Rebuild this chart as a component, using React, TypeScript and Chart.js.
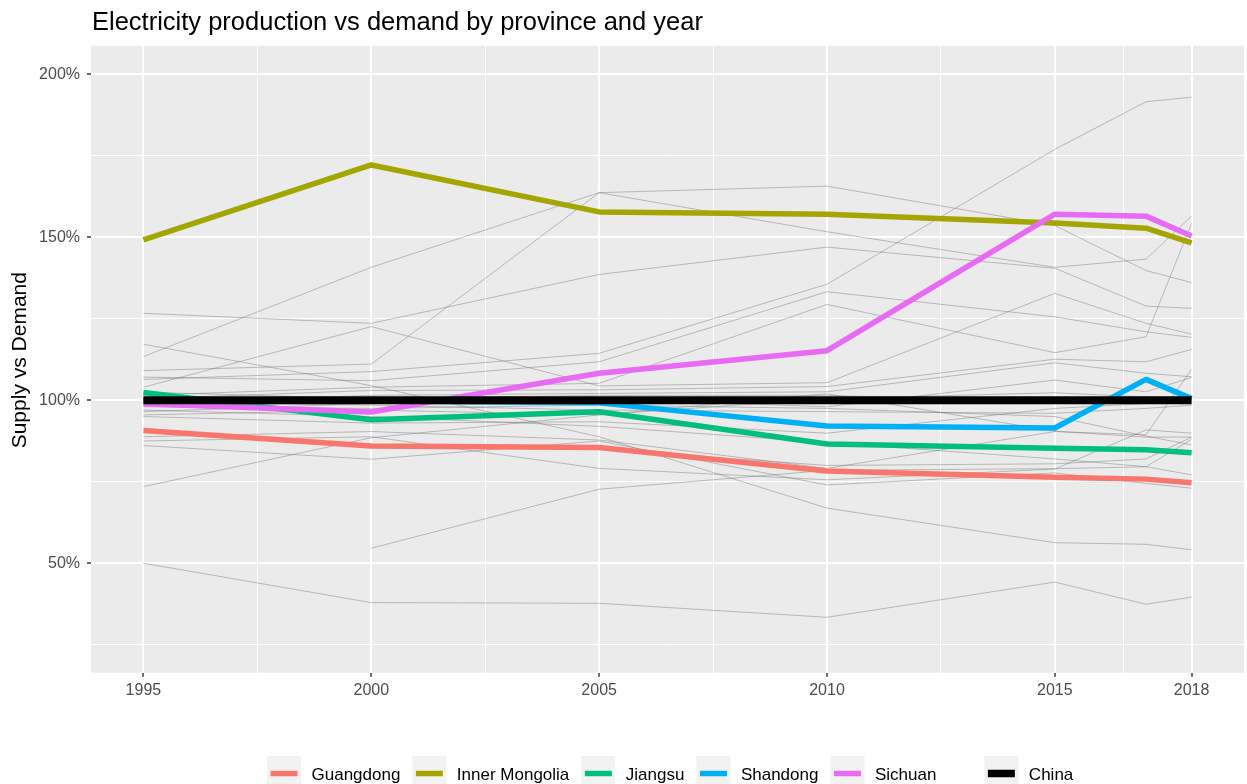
import React, { useEffect, useRef } from 'react';
import { Chart, registerables } from 'chart.js';

Chart.register(...registerables);

const years = [1995, 2000, 2005, 2010, 2015, 2017, 2018];
const xMajorTicks = [1995, 2000, 2005, 2010, 2015, 2018];
const xMinorTicks = [1997.5, 2002.5, 2007.5, 2012.5, 2016.5];
const yMajorTicks = [50, 100, 150, 200];
const yMinorTicks = [25, 75, 125, 175];

const chartTitle = 'Electricity production vs demand by province and year';
const yAxisTitle = 'Supply vs Demand';

const highlightNames = ['Guangdong', 'Inner Mongolia', 'Jiangsu', 'Shandong', 'Sichuan'];
const highlightColors = ['#F8766D', '#A3A500', '#00BF7D', '#00B0F6', '#E76BF3'];
const chinaName = 'China';

const guangdong = [90.7, 86.0, 85.5, 78.3, 76.4, 75.8, 74.7];
const innerMongolia = [149.2, 172.2, 157.8, 157.1, 154.4, 152.8, 148.3];
const jiangsu = [102.4, 94.0, 96.5, 86.6, 85.3, 84.8, 83.9];
const shandong = [100.0, 99.8, 99.2, 92.1, 91.5, 106.4, 100.5];
const sichuan = [98.9, 96.4, 108.3, 115.2, 157.1, 156.5, 150.4];
const china = [100, 100, 100, 100, 100, 100, 100];

const otherProvinces: (number | null)[][] = [
  [50.0, 37.9, 37.7, 33.4, 44.2, 37.4, 39.6],
  [null, 54.6, 72.7, 78.5, 79.0, 79.6, 88.0],
  [117.2, 104.5, 88.8, 66.9, 56.3, 55.8, 54.1],
  [113.4, 140.8, 163.7, 165.7, 153.6, 139.8, 136.1],
  [109.1, 111.1, 163.7, 151.7, 140.8, 143.3, 156.5],
  [126.7, 123.6, 138.6, 147.0, 140.5, 128.9, 128.2],
  [106.4, 108.8, 114.4, 135.6, 177.0, 191.6, 193.0],
  [104.0, 122.6, 104.4, 105.4, 132.8, 123.6, 120.3],
  [107.1, 106.0, 111.8, 133.3, 125.6, 121.0, 119.3],
  [101.5, 104.0, 105.2, 129.4, 114.6, 119.5, 154.3],
  [100.5, 103.0, 103.2, 104.2, 112.6, 111.8, 115.6],
  [99.0, 101.5, 102.1, 102.6, 111.5, 108.3, 107.2],
  [96.5, 99.0, 100.5, 98.0, 106.2, 102.6, 107.0],
  [95.5, 97.0, 95.5, 100.5, 102.3, 101.0, 100.8],
  [95.0, 93.0, 93.4, 89.9, 97.5, 99.0, 100.0],
  [88.8, 90.4, 87.8, 79.1, 90.4, 89.4, 109.5],
  [87.5, 88.8, 79.1, 75.6, 78.9, 90.9, 89.9],
  [86.1, 81.9, 87.5, 74.0, 77.7, 74.5, 73.0],
  [73.5, 88.5, 95.5, 102.0, 90.5, 88.7, 88.7],
  [98.0, 97.5, 98.5, 97.5, 95.0, 89.0, 86.3],
  [97.0, 95.0, 92.0, 87.0, 82.0, 79.6, 77.1],
  [102.5, 100.5, 101.5, 101.5, 99.5, 100.2, 99.5],
  [99.5, 98.5, 97.0, 96.5, 96.0, 97.5, 98.5],
  [null, 86.0, 85.0, 80.0, 80.5, 82.0, 88.7],
];

const FONT = '"Liberation Sans", Arial, Helvetica, sans-serif';

function toPoints(vals: (number | null)[]) {
  return years.map((yr, i) => ({ x: yr, y: vals[i] as number | null }));
}

export default function App() {
  const ref = useRef<HTMLCanvasElement | null>(null);

  useEffect(() => {
    const canvas = ref.current;
    if (!canvas) return;

    const highlightSeries = [guangdong, innerMongolia, jiangsu, shandong, sichuan];

    const datasets: any[] = [];
    datasets.push({
      label: chinaName,
      data: toPoints(china),
      borderColor: '#000000',
      borderWidth: 8,
      pointRadius: 0,
      borderJoinStyle: 'round',
      borderCapStyle: 'butt',
      tension: 0,
    });
    for (let i = highlightNames.length - 1; i >= 0; i--) {
      datasets.push({
        label: highlightNames[i],
        data: toPoints(highlightSeries[i]),
        borderColor: highlightColors[i],
        borderWidth: 5.5,
        pointRadius: 0,
        borderJoinStyle: 'round',
        borderCapStyle: 'butt',
        tension: 0,
      });
    }
    otherProvinces.forEach((vals, idx) => {
      datasets.push({
        label: 'other-' + idx,
        data: toPoints(vals),
        borderColor: 'rgba(110,110,110,0.42)',
        borderWidth: 1,
        pointRadius: 0,
        tension: 0,
        spanGaps: false,
      });
    });

    const isMajorX = (v: number) => xMajorTicks.includes(v);
    const isMajorY = (v: number) => yMajorTicks.includes(v);

    const decor = {
      id: 'ggdecor',
      beforeDraw(chart: any) {
        const { ctx, chartArea } = chart;
        ctx.save();
        ctx.fillStyle = '#FFFFFF';
        ctx.fillRect(0, 0, chart.width, chart.height);
        ctx.fillStyle = '#EBEBEB';
        ctx.fillRect(chartArea.left, chartArea.top, chartArea.right - chartArea.left, chartArea.bottom - chartArea.top);
        ctx.restore();
      },
      afterDraw(chart: any) {
        const { ctx, chartArea } = chart;
        ctx.save();
        // Title
        ctx.fillStyle = '#000000';
        ctx.font = `25.5px ${FONT}`;
        ctx.textAlign = 'left';
        ctx.textBaseline = 'alphabetic';
        ctx.fillText(chartTitle, chartArea.left + 1, 29.5);

        // Y axis title
        ctx.save();
        ctx.translate(26, (chartArea.top + chartArea.bottom) / 2 + 1);
        ctx.rotate(-Math.PI / 2);
        ctx.font = `21px ${FONT}`;
        ctx.textAlign = 'center';
        ctx.fillText(yAxisTitle, 0, 0);
        ctx.restore();

        // Legend
        ctx.font = `17px ${FONT}`;
        const keyW = 34;
        const keyTop = 756;
        const lineY = 773.5;
        const textBase = 779.5;
        let x = 267;
        const drawItem = (label: string, color: string, lw: number) => {
          ctx.fillStyle = '#F2F2F2';
          ctx.fillRect(x, keyTop, keyW, 40);
          ctx.strokeStyle = color;
          ctx.lineWidth = lw;
          ctx.lineCap = 'butt';
          ctx.beginPath();
          ctx.moveTo(x + 3.5, lineY);
          ctx.lineTo(x + keyW - 3.5, lineY);
          ctx.stroke();
          ctx.fillStyle = '#000000';
          ctx.textAlign = 'left';
          ctx.fillText(label, x + keyW + 10.5, textBase);
          x = x + keyW + 10.5 + ctx.measureText(label).width;
        };
        highlightNames.forEach((name, i) => {
          drawItem(name, highlightColors[i], 5.5);
          x += 12;
        });
        x += 36;
        drawItem(chinaName, '#000000', 7.5);
        ctx.restore();
      },
    };

    const chart = new Chart(canvas, {
      type: 'line',
      data: { datasets },
      plugins: [decor],
      options: {
        animation: false,
        responsive: false,
        maintainAspectRatio: false,
        layout: { padding: { top: 45.7, left: 0, right: 3, bottom: 0 } },
        plugins: {
          legend: { display: false },
          title: { display: false },
          tooltip: { enabled: false },
        },
        elements: { line: { borderJoinStyle: 'round' } },
        scales: {
          x: {
            type: 'linear',
            min: 1993.85,
            max: 2019.15,
            afterBuildTicks(scale: any) {
              scale.ticks = [...xMajorTicks, ...xMinorTicks].sort((a, b) => a - b).map((v) => ({ value: v }));
            },
            afterFit(scale: any) {
              scale.height = 111.3;
            },
            ticks: {
              autoSkip: false,
              maxRotation: 0,
              minRotation: 0,
              padding: 4,
              color: '#4D4D4D',
              font: { family: FONT, size: 16 },
              callback: (v: any) => (isMajorX(Number(v)) ? String(v) : ''),
            },
            grid: {
              color: '#FFFFFF',
              lineWidth: (c: any) => (isMajorX(c.tick?.value) ? 2 : 1),
              tickColor: (c: any) => (isMajorX(c.tick?.value) ? '#333333' : 'rgba(0,0,0,0)'),
              tickLength: 4,
              tickWidth: 1.5,
              drawTicks: true,
            },
            border: { display: false },
          },
          y: {
            type: 'linear',
            min: 16.4,
            max: 208.8,
            afterBuildTicks(scale: any) {
              scale.ticks = [...yMinorTicks, ...yMajorTicks].sort((a, b) => a - b).map((v) => ({ value: v }));
            },
            afterFit(scale: any) {
              scale.width = 91;
            },
            ticks: {
              autoSkip: false,
              padding: 7,
              color: '#4D4D4D',
              font: { family: FONT, size: 16 },
              callback: (v: any) => (isMajorY(Number(v)) ? `${v}%` : ''),
            },
            grid: {
              color: '#FFFFFF',
              lineWidth: (c: any) => (isMajorY(c.tick?.value) ? 2 : 1),
              tickColor: (c: any) => (isMajorY(c.tick?.value) ? '#333333' : 'rgba(0,0,0,0)'),
              tickLength: 4,
              tickWidth: 1.5,
              drawTicks: true,
            },
            border: { display: false },
          },
        },
      },
    });

    return () => {
      chart.destroy();
    };
  }, []);

  return (
    <div style={{ position: 'absolute', left: 0, top: 0, width: 1247, height: 784, background: '#FFFFFF' }}>
      <canvas ref={ref} width={1247} height={784} style={{ width: 1247, height: 784, display: 'block' }} />
    </div>
  );
}
